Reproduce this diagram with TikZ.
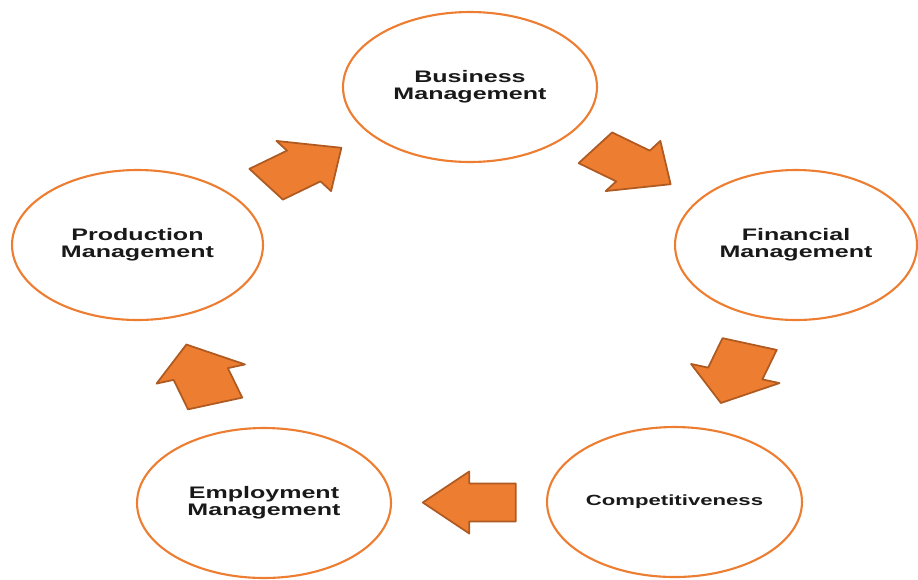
\documentclass[tikz,border=0pt]{standalone}
\usepackage{fontspec}
\usepackage{tikz}
\newfontfamily\mgmtfont{Liberation Sans}[FakeStretch=1.5]
\definecolor{mgmtorange}{RGB}{237,125,49}
\definecolor{mgmtedge}{RGB}{174,90,33}
\usetikzlibrary{shapes.geometric, calc}
\tikzset{
    mgmtnode/.style={ellipse, draw=mgmtorange, line width=1.2pt, align=center,
        minimum height=3cm, text=black!90,
        font={\mgmtfont\bfseries\fontsize{9.5}{9.5}\selectfont}},
    mgmtarrow/.style={draw=mgmtedge, fill=mgmtorange, line width=1pt, line join=round},
    cyclearrow/.pic={
        \path[mgmtarrow] (-31,-19) -- (0,-19) -- (0,-31) -- (31,0)
            -- (0,31) -- (0,19) -- (-31,19) -- cycle;
    }
}

\begin{document}
\begin{tikzpicture}[x=0.02cm, y=-0.02cm]
  \useasboundingbox (0,0) rectangle (918,579);
  \node[mgmtnode, minimum width=5.08cm] (biz)  at (470,87)    {Business\\Management};
  \node[mgmtnode, minimum width=4.84cm] (fin)  at (796,245)   {Financial\\Management};
  \node[mgmtnode, minimum width=5.10cm, inner sep=0pt,
        font={\mgmtfont\bfseries\fontsize{8.4}{8.4}\selectfont}]
        (comp) at (674.5,502) {Competitiveness};
  \node[mgmtnode, minimum width=5.08cm] (emp)  at (264,503)   {Employment\\Management};
  \node[mgmtnode, minimum width=5.02cm] (prod) at (137.5,245) {Production\\Management};
  % block arrows sit halfway between neighbours, stretched like the text
  \pic[xscale=1.5, rotate=36]   at ($(prod)!0.5!(biz)$)  {cyclearrow};
  \pic[xscale=1.5, rotate=-36]  at ($(biz)!0.5!(fin)$)   {cyclearrow};
  \pic[xscale=1.5, rotate=-108] at ($(fin)!0.5!(comp)$)  {cyclearrow};
  \pic[xscale=1.5, rotate=180]  at ($(comp)!0.5!(emp)$)  {cyclearrow};
  \pic[xscale=1.5, rotate=108]  at ($(emp)!0.5!(prod)$)  {cyclearrow};
\end{tikzpicture}
\end{document}
